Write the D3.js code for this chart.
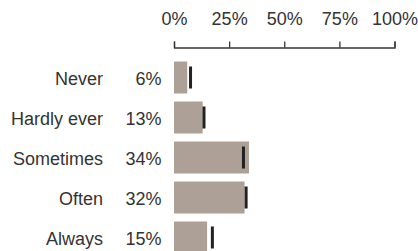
<!DOCTYPE html>
<html>
<head>
<meta charset="utf-8">
<script src="https://cdn.jsdelivr.net/npm/d3@7"></script>
<style>
  body { margin: 0; background: #fff; }
  svg text { font-family: "Liberation Sans", Arial, sans-serif; font-size: 18px; fill: #333; }
</style>
</head>
<body>
<div id="chart"></div>
<script>
// data
var categories = ["Never", "Hardly ever", "Sometimes", "Often", "Always"];
var shares = [0.06, 0.13, 0.34, 0.32, 0.15];
var benchmarks = [0.075, 0.136, 0.315, 0.327, 0.174];
var tickValues = [0, 0.25, 0.5, 0.75, 1];

var width = 418, height = 251;
var margin = { top: 47.5, left: 174 };

var svg = d3.select("#chart").append("svg")
    .attr("width", width)
    .attr("height", height);

var g = svg.append("g")
    .attr("transform", `translate(${margin.left},0)`);

var x = d3.scaleLinear().domain([0, 1]).range([0, 220.5]);
var y = d3.scaleBand()
    .domain(categories)
    .range([57.5, 257.5])
    .paddingInner(0.2)
    .paddingOuter(0.1);

// top axis
var axis = g.append("g")
    .attr("transform", `translate(0,${margin.top})`)
    .call(d3.axisTop(x)
        .tickValues(tickValues)
        .tickFormat(d3.format(".0%"))
        .tickSize(6)
        .tickPadding(16.5));
axis.selectAll("path, line").attr("stroke", "#333").attr("stroke-width", 1.3);
axis.selectAll("text")
    .style("font-size", "18px")
    .attr("fill", "#333");

// bars
g.append("g")
    .selectAll("rect")
    .data(categories)
    .enter()
    .append("rect")
    .attr("x", 0)
    .attr("y", d => y(d))
    .attr("width", (d, i) => x(shares[i]))
    .attr("height", y.bandwidth())
    .attr("fill", "#ada096");

// benchmark markers
g.append("g")
    .selectAll("rect")
    .data(categories)
    .enter()
    .append("rect")
    .attr("x", (d, i) => x(benchmarks[i]) - 1.5)
    .attr("y", d => y(d) + 5)
    .attr("width", 3)
    .attr("height", y.bandwidth() - 10)
    .attr("fill", "#222");

// category labels
g.append("g")
    .selectAll("text")
    .data(categories)
    .enter()
    .append("text")
    .attr("x", -71)
    .attr("y", d => y(d) + y.bandwidth() / 2)
    .attr("dy", "0.4em")
    .attr("text-anchor", "end")
    .text(d => d);

// value labels
g.append("g")
    .selectAll("text")
    .data(categories)
    .enter()
    .append("text")
    .attr("x", -12.5)
    .attr("y", d => y(d) + y.bandwidth() / 2)
    .attr("dy", "0.4em")
    .attr("text-anchor", "end")
    .text((d, i) => d3.format(".0%")(shares[i]));
</script>
</body>
</html>
